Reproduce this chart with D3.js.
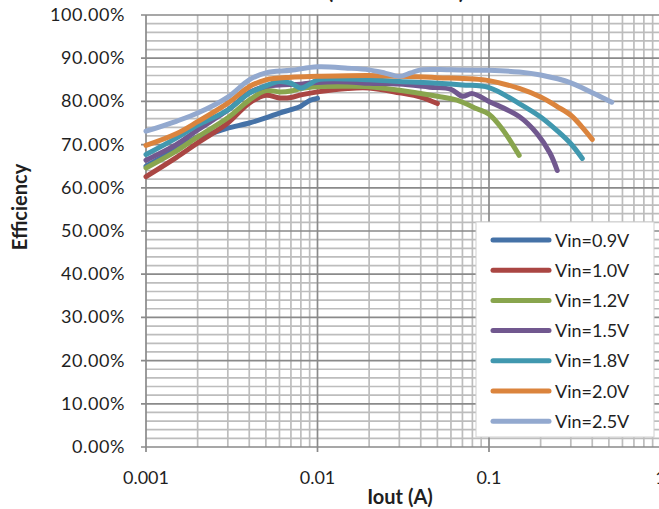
<!DOCTYPE html>
<html><head><meta charset="utf-8">
<script src="https://cdn.jsdelivr.net/npm/d3@7"></script>
<style>html,body{margin:0;padding:0;background:#fff;overflow:hidden}svg{display:block}</style>
</head><body><svg id="c" width="659" height="509"></svg>
<script>
const seriesNames = ["Vin=0.9V","Vin=1.0V","Vin=1.2V","Vin=1.5V","Vin=1.8V","Vin=2.0V","Vin=2.5V"];
const seriesColors = ["#4572A7","#AA4643","#89A54E","#71588F","#4198AF","#DB843D","#93A9CF"];
const iout09 = [0.001,0.0015,0.002,0.0025,0.003,0.004,0.005,0.006,0.007,0.008,0.009,0.01];
const eff09  = [65,69,71.8,72.8,73.8,75,76.2,77.3,78.1,78.9,80.2,80.7];
const iout10 = [0.001,0.0015,0.002,0.003,0.004,0.005,0.006,0.007,0.008,0.01,0.015,0.02,0.03,0.04,0.05];
const eff10  = [62.6,67,70.4,75,79.6,81.4,80.8,80.9,81.5,82.2,83,83.1,82,81,79.5];
const iout12 = [0.001,0.0015,0.002,0.003,0.004,0.005,0.006,0.007,0.008,0.01,0.015,0.02,0.03,0.05,0.065,0.085,0.1,0.12,0.15];
const eff12  = [64.6,68.5,71.8,76.2,80.3,82.5,82.2,82.4,83,83.4,83.5,83.4,82.6,81.2,80.3,78.3,77,73.5,67.5];
const iout15 = [0.001,0.0015,0.002,0.003,0.004,0.005,0.006,0.008,0.01,0.015,0.02,0.03,0.045,0.06,0.07,0.08,0.1,0.15,0.19,0.227,0.25];
const eff15  = [66.4,70,73.4,78,82,83.5,83.8,84,84.4,84.5,84.2,84,83.3,82.8,81.2,81.8,80,76.5,72.6,68,64];
const iout18 = [0.001,0.0015,0.002,0.003,0.004,0.005,0.006,0.007,0.008,0.009,0.01,0.02,0.03,0.05,0.07,0.1,0.15,0.2,0.25,0.3,0.35];
const eff18  = [67.7,71.5,74.5,78,81.9,83.6,84.6,84.2,83.1,84,85,85,84.6,84.2,83.8,83.2,79.5,76.4,73.2,70.2,66.8];
const iout20 = [0.001,0.0015,0.002,0.003,0.004,0.005,0.007,0.01,0.02,0.03,0.05,0.1,0.15,0.2,0.25,0.3,0.35,0.4];
const eff20  = [69.8,72.5,75.3,79.6,83.4,85,85.6,85.8,86,85.8,85.5,84.8,83,81,78.8,76.8,74,71.2];
const iout25 = [0.001,0.0015,0.002,0.003,0.004,0.005,0.007,0.01,0.015,0.02,0.025,0.03,0.035,0.04,0.06,0.1,0.15,0.2,0.3,0.4,0.52];
const eff25  = [73.1,75.4,77.3,81,85,86.6,87.2,88,87.7,87.3,86.5,85.8,86.6,87.3,87.3,87.2,86.8,86.1,84.3,82,79.8];
const yTicks = [0,10,20,30,40,50,60,70,80,90,100];
const xTicks = [0.001,0.01,0.1,1];
const xTickLabels = ["0.001","0.01","0.1","1"];

const ioutSets = [iout09,iout10,iout12,iout15,iout18,iout20,iout25];
const effSets = [eff09,eff10,eff12,eff15,eff18,eff20,eff25];

const svg = d3.select("#c");
const L = 146, R = 660.5, T = 15, B = 447;
const x = d3.scaleLog().domain([0.001,1]).range([L,R]);
const y = d3.scaleLinear().domain([0,100]).range([B,T]);
const font = "Lato, 'Open Sans', sans-serif";

// minor grid
const g = svg.append("g");
const minorY = d3.range(0,101,2).filter(v=>v%10!==0);
g.selectAll(".hy").data(minorY).enter().append("line")
  .attr("x1",L).attr("x2",R).attr("y1",d=>y(d)).attr("y2",d=>y(d))
  .attr("stroke","#bdbdbd").attr("stroke-width",1.7);
const minorX = [];
[0.001,0.01,0.1].forEach(dd=>{for(let k=2;k<=9;k++) minorX.push(dd*k);});
g.selectAll(".vx").data(minorX).enter().append("line")
  .attr("x1",d=>x(d)).attr("x2",d=>x(d)).attr("y1",T).attr("y2",B)
  .attr("stroke","#bdbdbd").attr("stroke-width",1.7);
// major grid
g.selectAll(".hY").data(yTicks).enter().append("line")
  .attr("x1",L-5).attr("x2",R).attr("y1",d=>y(d)).attr("y2",d=>y(d))
  .attr("stroke","#8a8a8a").attr("stroke-width",1.7);
g.selectAll(".vX").data(xTicks).enter().append("line")
  .attr("x1",d=>x(d)).attr("x2",d=>x(d)).attr("y1",T).attr("y2",B+5)
  .attr("stroke","#8a8a8a").attr("stroke-width",1.7);

// y labels
svg.append("g").selectAll("text").data(yTicks).enter().append("text")
  .attr("x",125).attr("y",d=>y(d)+6).attr("text-anchor","end")
  .attr("font-family",font).attr("font-size",18).attr("letter-spacing",0.6).attr("fill","#1f1f1f")
  .text(d=>d3.format(".2f")(d)+"%");
// x labels
svg.append("g").selectAll("text").data(xTicks).enter().append("text")
  .attr("x",d=>x(d)).attr("y",484).attr("text-anchor","middle")
  .attr("font-family",font).attr("font-size",18).attr("fill","#1f1f1f")
  .text((d,i)=>xTickLabels[i]);

// axis titles
svg.append("text").attr("x",400).attr("y",504).attr("text-anchor","middle")
  .attr("font-family",font).attr("font-weight","bold").attr("font-size",20).attr("fill","#1f1f1f")
  .text("Iout (A)");
svg.append("text").attr("transform","translate(27,207) rotate(-90)").attr("text-anchor","middle")
  .attr("font-family",font).attr("font-weight","bold").attr("font-size",20).attr("fill","#1f1f1f")
  .text("Efficiency");
svg.append("text").attr("x",396).attr("y",-1).attr("text-anchor","middle")
  .attr("font-family",font).attr("font-weight","bold").attr("font-size",21).attr("fill","#1f1f1f")
  .text("(VOUT = 3.3V)");

// lines
const line = d3.line().x(d=>x(d[0])).y(d=>y(d[1])).curve(d3.curveCatmullRom.alpha(0.5));
const lg = svg.append("g");
ioutSets.forEach((xs,i)=>{
  const pts = xs.map((v,j)=>[v,effSets[i][j]]);
  lg.append("path").attr("d",line(pts)).attr("fill","none")
    .attr("stroke",seriesColors[i]).attr("stroke-width",5)
    .attr("stroke-linecap","round").attr("stroke-linejoin","round");
});

// legend
const leg = svg.append("g");
leg.append("rect").attr("x",476).attr("y",222).attr("width",178).attr("height",215)
  .attr("fill","#fff").attr("stroke","#d0d0d0").attr("stroke-width",1);
seriesNames.forEach((n,i)=>{
  const yy = 240 + i*30.2;
  leg.append("line").attr("x1",493).attr("x2",549).attr("y1",yy).attr("y2",yy)
    .attr("stroke",seriesColors[i]).attr("stroke-width",5).attr("stroke-linecap","round");
  leg.append("text").attr("x",555).attr("y",yy+6.5).attr("font-family",font)
    .attr("font-size",18).attr("fill","#1f1f1f").text(n);
});
</script></body></html>
